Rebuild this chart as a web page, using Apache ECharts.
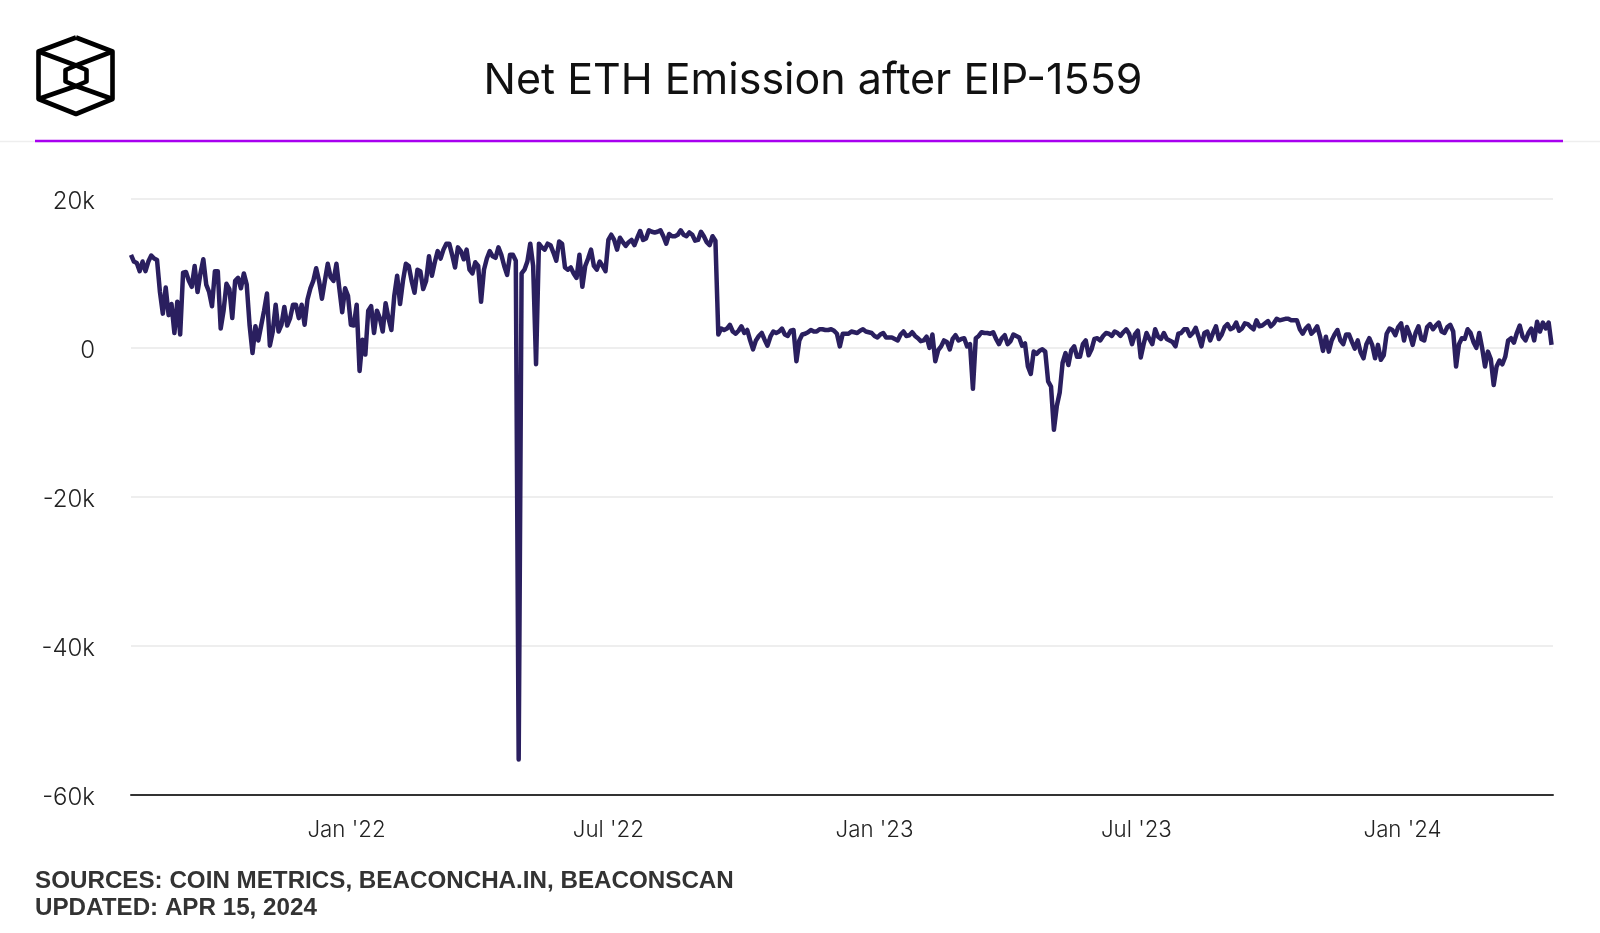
<!DOCTYPE html>
<html>
<head>
<meta charset="utf-8">
<title>Net ETH Emission after EIP-1559</title>
<script src="https://cdn.jsdelivr.net/npm/echarts@6/dist/echarts.min.js"></script>
<style>
  html, body { margin: 0; padding: 0; background: #fff; }
  #chart { width: 1600px; height: 933px; }
</style>
</head>
<body>
<div id="chart"></div>
<script>
// net emission in thousand ETH, one reading every 2 days from 5 Aug 2021
const startDate = Date.UTC(2021, 7, 5);
const stepDays = 2;

const emissionLondon = [
  12.5,11.6,11.4,10.3,11.6,10.3,11.6,12.4,12,11.8,
  7.5,4.6,8.1,4.4,5.9,2,6.2,1.8,10.1,10.2,
  9,8.2,11,7.5,10,11.9,8.5,7.5,5.6,10.3,
  10.3,2.6,5,8.6,7.9,4,9,9.4,8,10,
  8.5,3,-0.7,2.9,1,3,5,7.3,0.3,2.2,
  5.8,2.2,3.1,5.5,3,4,5.8,5.8,4,5.8,
  3.1,6.5,8,9,10.7,9,6.6,9,11.3,9.5,
  9,11.3,8,4.8,8,7,3.1,3,5.8,-3.1,
  1.1,-0.9,5,5.6,2,5,4,2.2,6,4,
  2.4,7,9.7,5.9,9,11.3,11,9,7.4,10.5
];
const emissionPreMerge = [
  10.3,7.9,9,12.3,9.7,11.5,13,12,13.2,14,
  14,12.5,10.8,13.5,13,11.9,13.2,10.5,10,11.5,
  11,6.2,10.5,12,13,12.3,12.1,13.5,12.5,11,
  9.8,12.5,12.5,11.7,-55.3,10,10.5,11.6,14,11,
  -2.2,14,13.5,13.2,14,13.8,12.8,11.7,14.3,14,
  10.8,10.5,10.8,10,9.4,12.5,8.2,11,12,13.2,
  11,10.5,11.6,11,10.3,14.5,15.2,14.5,13.2,14.8,
  14.2,13.7,14.2,14.5,13.8,14.8,15.7,14.5,14.7,15.8,
  15.6,15.5,15.6,15.8,15,14,15.3,15,15,15.2,
  15.8,15.2,15,15.5,15.2,14.4,14.5,15.6,15,14.2,
  13.8,15,14.4
];
const emissionPostMerge = [
  1.8,2.6,2.4,2.6,3.1,2.2,1.9,
  2.3,2.9,2,2.4,1,-0.2,1,1.6,2,1.1,
  0.3,1.5,2.2,2,2.2,2.6,1.8,1.6,2.3,2.4,
  -1.8,1,1.8,1.9,2.1,2.4,2.2,2.2,2.5,2.5,
  2.4,2.4,2.5,2.3,1.9,0.2,1.9,1.9,1.9,2.2,
  2.1,2,2.3,2.5,2.2,2.1,2,1.6,1.4,1.8,
  2,1.4,1.4,1.4,1.2,1,1.8,2.2,1.6,1.7,
  2.1,1.6,1.3,0.9,1,1.5,0,1.8,-1.8,-0.3,
  0.2,1,0.8,-0.2,1.2,1.7,1,1.2,1.3,0.2,
  0.5,-5.5,1.3,1.6,2.1,2,2,1.9,2.1,1.2
];
const emissionShanghai = [
  0.5,1.3,1.7,0.5,0.9,1.8,1.6,1.4,0.3,0.6,
  -2.5,-3.5,-0.5,-0.8,-0.4,-0.2,-0.5,-4.5,-5.2,-11,
  -7.8,-6,-2,-0.7,-2.3,-0.3,0.2,-1.2,-1.2,0.5,
  1,-1,-0.2,1.2,1.3,1,1.6,2,1.9,1.6,
  2.2,2,1.6,2.1,2.5,1.9,0.5,1.8,2.3,-1.3,
  0.5,2,1.2,0.5,2.5,1.5,1.2,2,1.2,1,
  0.8,0.2,1.9,2,2.5,2.5,1.6,2,2.7,1.5,
  0.2,2,2.2,1,2,2.9,1.2,1.8,2.8,3.2,
  2.5,2.7,3.4,2.3,2.6,3.3,3.2,2.8,2.5,3.7,
  2.9,3,3.3,3.6,2.9,3.3,3.9
];
const emissionLate = [
  3.7,3.8,3.9,3.9,3.7,3.7,3.7,2.5,1.9,2.6,3,1.9,2.3,
  2.9,1.5,-0.4,1.5,-0.5,1,1.8,2.4,1,0.5,
  1.8,1.8,0.8,-0.1,1,-0.6,-1.4,0.5,1.3,0.4,
  -1.4,0.4,-1.6,-1,1.9,2.6,2.4,1.7,2.8,3.3,
  1,2.8,1.8,0.4,2,2.9,1.2,1,2.8,3.2,
  2.5,3,3.4,2.2,2,2.8,3.1,2.2,-2.5,0.5,
  1.3,1.2,2.5,2,0.8,0,2,0,-2.5,-0.5,
  -1.5,-5,-2.5,-1.7,-2.2,-1.2,1,1.3,0.7,2,
  3,1.5,1,2,2.6,1,3.5,2.2,3.4,2.6,3.4,0.4
];

const tickDates = ['2022-01-01', '2022-07-01', '2023-01-01', '2023-07-01', '2024-01-01'];
const tickLabels = ["Jan '22", "Jul '22", "Jan '23", "Jul '23", "Jan '24"];
const axisStart = '2021-08-05';
const axisEnd = '2024-04-14';

const titleText = 'Net ETH Emission after EIP-1559';
const sourceLines = ['SOURCES: COIN METRICS, BEACONCHA.IN, BEACONSCAN', 'UPDATED: APR 15, 2024'];

const emission = [].concat(emissionLondon, emissionPreMerge, emissionPostMerge, emissionShanghai, emissionLate);
const seriesData = emission.map((v, i) => [startDate + i * stepDays * 86400000, v]);
const toTime = d => Date.parse(d + 'T00:00:00Z');
const tickTimes = tickDates.map(toTime);

const chart = echarts.init(document.getElementById('chart'), null, { renderer: 'canvas' });

// logo
const logoStyle = { stroke: '#000', lineWidth: 4.6, fill: null, lineJoin: 'round' };
const logoLines = [
  [[76, 37.5], [112.5, 51.5], [112.5, 99], [76, 114], [38.5, 99], [38.5, 51.5], [76, 37.5]],
  [[76, 65.5], [86.5, 70], [86.5, 81.5], [76, 86], [65.5, 81.5], [65.5, 70], [76, 65.5]],
  [[38.5, 51.5], [76, 65.5], [112.5, 51.5]],
  [[38.5, 99], [76, 86], [112.5, 99]]
];

chart.setOption({
  animation: false,
  backgroundColor: '#fff',
  title: {
    text: titleText,
    left: 808,
    top: 76,
    textAlign: 'center',
    textVerticalAlign: 'middle',
    textStyle: { fontFamily: 'Inter', fontSize: 43, fontWeight: 400, color: '#111' }
  },
  grid: { left: 131, right: 47, top: 199, height: 595.5, containLabel: false },
  xAxis: {
    // plain numeric axis holding timestamps, the month labels are placed by customValues
    type: 'value',
    min: toTime(axisStart),
    max: toTime(axisEnd),
    axisLine: { show: true, onZero: false, lineStyle: { color: '#333', width: 2 } },
    axisTick: { show: false },
    splitLine: { show: false },
    axisLabel: {
      customValues: tickTimes,
      formatter: val => tickLabels[tickTimes.indexOf(val)] || '',
      margin: 25,
      fontFamily: 'Inter',
      fontSize: 22.3,
      fontWeight: 300,
      color: '#222',
      hideOverlap: false
    }
  },
  yAxis: {
    type: 'value',
    min: -60,
    max: 20,
    interval: 20,
    axisLine: { show: false },
    axisTick: { show: false },
    splitLine: { lineStyle: { color: '#eeeeee', width: 2 } },
    axisLabel: {
      margin: 36,
      // labels sit a little below their gridlines in the reference
      formatter: val => '{v|' + (val === 0 ? '0' : val + 'k') + '}',
      rich: {
        v: {
          fontFamily: 'Inter',
          fontSize: 24,
          fontWeight: 300,
          color: '#222',
          padding: [6, 0, 0, 0]
        }
      }
    }
  },
  series: [{
    name: 'Net ETH Emission',
    type: 'line',
    data: seriesData,
    showSymbol: false,
    smooth: false,
    sampling: false,
    clip: false,
    lineStyle: { color: '#2a1f5f', width: 4.5, join: 'round' }
  }],
  graphic: [
    { type: 'line', shape: { x1: 0, y1: 141.5, x2: 1600, y2: 141.5 }, style: { stroke: '#eeeeee', lineWidth: 1.5 } },
    { type: 'line', shape: { x1: 35, y1: 141, x2: 1563, y2: 141 }, style: { stroke: '#a800f0', lineWidth: 2.4 } }
  ].concat(logoLines.map(pts => ({
    type: 'polyline', shape: { points: pts }, style: logoStyle
  }))).concat(sourceLines.map((t, i) => ({
    type: 'text',
    x: 35,
    y: 881 + i * 27,
    style: {
      text: t,
      fontFamily: 'Liberation Sans',
      fontSize: 24.2,
      fontWeight: 'bold',
      fill: '#333',
      textVerticalAlign: 'middle'
    }
  })))
});
</script>
</body>
</html>
